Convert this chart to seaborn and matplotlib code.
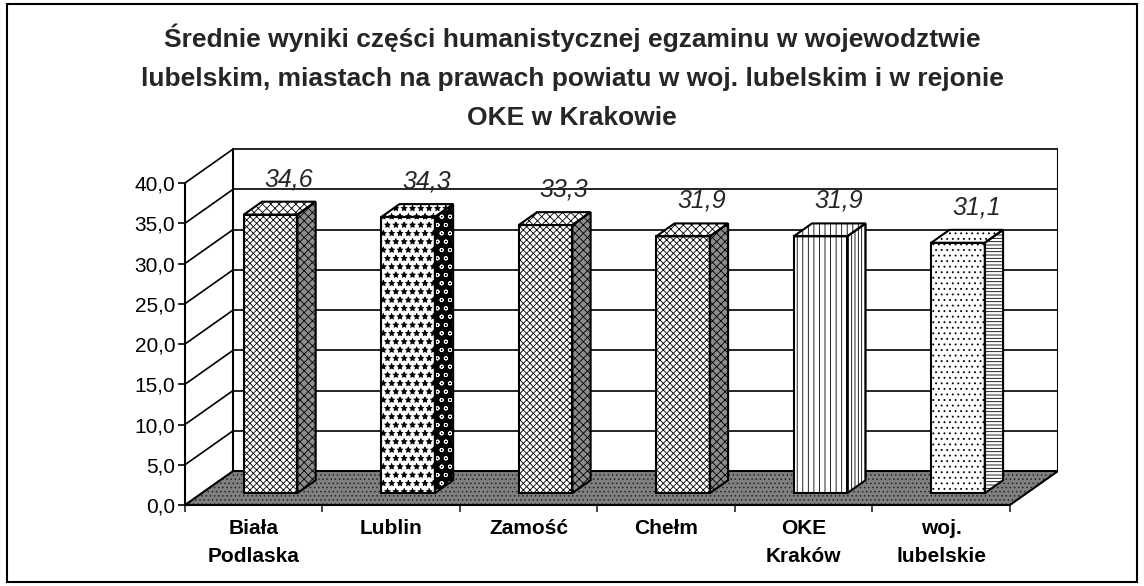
import numpy as np
import pandas as pd
import matplotlib
matplotlib.use("Agg")
import matplotlib.pyplot as plt
import matplotlib.transforms as mtransforms
from matplotlib.patches import Polygon, Rectangle
import seaborn as sns

# dane
categories = ["Biała\nPodlaska", "Lublin", "Zamość", "Chełm", "OKE\nKraków", "woj.\nlubelskie"]
wyniki = [34.6, 34.3, 33.3, 31.9, 31.9, 31.1]
y_ticks = [0, 5, 10, 15, 20, 25, 30, 35, 40]
title = ("Średnie wyniki części humanistycznej egzaminu w wojewodztwie\n"
         "lubelskim, miastach na prawach powiatu w woj. lubelskim i w rejonie\n"
         "OKE w Krakowie")

# style ścian słupków (przód / bok / góra)
front_hatch = ["xxxxx", "**", "xxxxx", "xxxxx", "|||", "..."]
side_color = ["0.55", "black", "0.55", "0.55", "white", "white"]
side_hatch = ["XXXX", "oo", "XXXX", "XXXX", "|||||", "-----"]
side_hcolor = ["black", "white", "black", "black", "black", "black"]
top_hatch = ["xxxx", "**", "xxxx", "xxxx", "|||", "..."]

sns.set_theme(style="white")
plt.rcParams["font.family"] = ["Liberation Sans", "DejaVu Sans"]
plt.rcParams["hatch.linewidth"] = 0.6

fig = plt.figure(figsize=(11.44, 5.86), dpi=100)
ax = fig.add_axes([185 / 1144, 81 / 586, 873 / 1144, 357 / 586])

# głębokość "3D" w jednostkach danych
DX, DY = 0.35, 4.22
bar_pos = 0.35          # położenie słupków w głębi
bar_depth = 0.38        # grubość słupków
sx, sy = bar_pos * DX, bar_pos * DY
bdx, bdy = bar_depth * DX, bar_depth * DY

# ściana tylna, siatka, podłoga
left_b, right_b = -0.5 + DX, 5.5 + DX
for v in y_ticks[1:]:
    ax.plot([left_b, right_b], [v + DY, v + DY], color="black", lw=1.2, zorder=1)
    ax.plot([-0.5, left_b], [v, v + DY], color="black", lw=1.2, zorder=1)
ax.plot([left_b, left_b], [DY, 40 + DY], color="black", lw=1.5, zorder=1)
ax.plot([right_b, right_b], [DY, 40 + DY], color="black", lw=1.5, zorder=1)

floor = Polygon([(-0.5, 0), (5.5, 0), (right_b, DY), (left_b, DY)], closed=True,
                facecolor="0.5", edgecolor="0.15", hatch="....", lw=0, zorder=2)
ax.add_patch(floor)
ax.add_patch(Polygon([(-0.5, 0), (5.5, 0), (right_b, DY), (left_b, DY)], closed=True,
                     fill=False, edgecolor="black", lw=1.5, zorder=2))

# słupki
df = pd.DataFrame({"kat": categories, "wynik": wyniki})
sns.barplot(data=df, x="kat", y="wynik", ax=ax, width=0.39, color="white",
            edgecolor="black", linewidth=1.5, zorder=5)

shift = mtransforms.Affine2D().translate(sx, sy) + ax.transData
bars = [p for p in ax.patches if p is not floor and p.get_fill() and p.get_height() > 0][-len(wyniki):]
for i, p in enumerate(bars):
    p.set_transform(shift)
    p.set_facecolor("white")
    p.set_hatch(front_hatch[i])
    x0, w, h = p.get_x(), p.get_width(), p.get_height()
    side = [(x0 + w, 0), (x0 + w + bdx, bdy), (x0 + w + bdx, h + bdy), (x0 + w, h)]
    top = [(x0, h), (x0 + bdx, h + bdy), (x0 + w + bdx, h + bdy), (x0 + w, h)]
    ax.add_patch(Polygon(side, closed=True, facecolor=side_color[i], edgecolor=side_hcolor[i],
                         hatch=side_hatch[i], lw=0, transform=shift, zorder=4))
    ax.add_patch(Polygon(top, closed=True, facecolor="white", edgecolor="black",
                         hatch=top_hatch[i], lw=0, transform=shift, zorder=4))
    for poly in (side, top):
        ax.add_patch(Polygon(poly, closed=True, fill=False, edgecolor="black", lw=1.5,
                             transform=shift, zorder=6))
    ax.text(x0 + w / 2 + sx + bdx, h + sy + bdy + 1.3, f"{wyniki[i]:.1f}".replace(".", ","),
            ha="center", va="bottom", fontsize=18, style="italic", zorder=7)

# osie
ax.set_xlim(-0.5, 5.5 + DX)
ax.set_ylim(0, 40 + DY + 0.13)
ax.set_yticks(y_ticks)
ax.set_yticklabels([f"{v:.1f}".replace(".", ",") for v in y_ticks], fontsize=15)
ax.set_xticks(range(len(categories)))
ax.set_xticklabels(categories, fontsize=15, fontweight="bold", linespacing=1.6)
ax.set_xticks(np.arange(-0.5, 6, 1), minor=True)
ax.tick_params(axis="y", left=True, length=5, width=1.2, pad=2, colors="black")
ax.tick_params(axis="x", which="major", bottom=True, length=0, pad=10, colors="black")
ax.tick_params(axis="x", which="minor", bottom=True, length=5, width=1.2)
ax.set_xlabel("")
ax.set_ylabel("")
ax.grid(False)
for s in ("top", "right"):
    ax.spines[s].set_visible(False)
ax.spines["left"].set_bounds(0, 40)
ax.spines["bottom"].set_bounds(-0.5, 5.5)
for s in ("left", "bottom"):
    ax.spines[s].set_color("black")
    ax.spines[s].set_linewidth(1.5)
ax.patch.set_alpha(0)

fig.text(0.5, 1 - 24 / 586, title, ha="center", va="top", fontsize=19,
         fontweight="bold", linespacing=1.78)
fig.add_artist(Rectangle((7 / 1144, 4 / 586), 1130 / 1144, 578 / 586,
                         transform=fig.transFigure, fill=False, lw=1.5, edgecolor="black"))

fig.savefig("out.png", dpi=100)
